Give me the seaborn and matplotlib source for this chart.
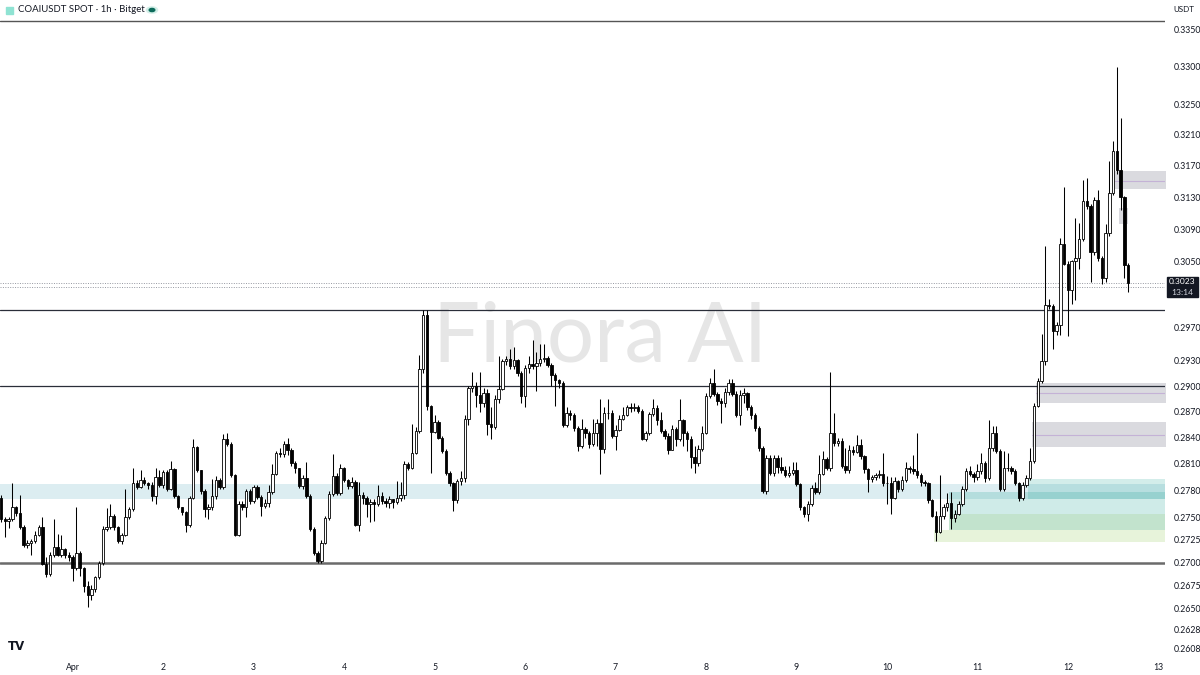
import numpy as np
import pandas as pd
import matplotlib
matplotlib.use("Agg")
import matplotlib.pyplot as plt
import seaborn as sns
from matplotlib.patches import Rectangle, Circle
from matplotlib.ticker import NullLocator

sns.set_theme(style="white")
plt.rcParams['font.family'] = ['Lato', 'DejaVu Sans']

# ==========================================
# 1h candles COAIUSDT (Bitget), from Mar 31 05:00, prices in 1e-4 USDT
# open of each candle = close of previous one
# ==========================================
FIRST_OPEN = 2772

CLOSE = [
    2748, 2746, 2748, 2761, 2755, 2739, 2719, 2722, 2724, 2731, 2739, 2699, 2688, 2708, 2717, 2709, 2715, 2708, 2706,
    2694, 2711, 2694, 2675, 2665, 2672, 2684, 2700, 2737, 2739, 2752, 2739, 2724, 2731, 2750, 2759, 2789, 2784, 2792, 2788, 2786, 2774, 2795, 2786,
    2801, 2782, 2804, 2774, 2761, 2756, 2741, 2772, 2829, 2803, 2780, 2759, 2762, 2774, 2792, 2784, 2838, 2833, 2797, 2731, 2765, 2761, 2779, 2768,
    2784, 2773, 2763, 2766, 2778, 2799, 2822, 2821, 2833, 2826, 2811, 2805, 2785, 2794, 2774, 2737, 2711, 2702, 2722, 2749, 2776, 2796, 2777, 2806,
    2792, 2785, 2790, 2742, 2775, 2772, 2765, 2767, 2765, 2774, 2768, 2766, 2770, 2767, 2772, 2775, 2810, 2806, 2823, 2848, 2920, 2985, 2877, 2847,
    2858, 2840, 2825, 2800, 2788, 2769, 2791, 2794, 2862, 2898, 2900, 2889, 2880, 2892, 2856, 2852, 2885, 2897, 2929, 2932, 2923, 2931, 2915, 2888,
    2921, 2926, 2923, 2927, 2932, 2933, 2925, 2913, 2907, 2904, 2855, 2868, 2866, 2851, 2831, 2850, 2846, 2833, 2846, 2857, 2827, 2868, 2869, 2842,
    2849, 2862, 2866, 2875, 2874, 2876, 2871, 2839, 2845, 2867, 2874, 2860, 2848, 2842, 2826, 2850, 2838, 2861, 2845, 2838, 2818, 2811, 2827, 2845,
    2888, 2903, 2891, 2882, 2880, 2893, 2903, 2891, 2866, 2890, 2892, 2876, 2866, 2851, 2828, 2780, 2817, 2800, 2817, 2807, 2803, 2797, 2800, 2803,
    2787, 2761, 2754, 2765, 2783, 2778, 2799, 2816, 2805, 2845, 2834, 2836, 2808, 2803, 2826, 2824, 2832, 2819, 2804, 2793, 2795, 2797, 2799, 2788,
    2789, 2772, 2791, 2782, 2792, 2805, 2804, 2802, 2797, 2790, 2788, 2769, 2752, 2734, 2751, 2761, 2766, 2749, 2754, 2765, 2782, 2802, 2799, 2795,
    2802, 2811, 2794, 2828, 2845, 2825, 2782, 2805, 2806, 2802, 2788, 2772, 2786, 2794, 2813, 2877, 2906, 2929, 2997, 2995, 2965, 2973, 3071, 3047,
    3015, 3050, 3054, 3078, 3125, 3119, 3062, 3126, 3054, 3029, 3085, 3136, 3189, 3165, 3130, 3046, 3023,
]

HIGH = [
    2775, 2750, 2750, 2789, 2763, 2775, 2741, 2725, 2726, 2735, 2742, 2750, 2706, 2712, 2748, 2732, 2730, 2716, 2712,
    2708, 2761, 2713, 2695, 2680, 2676, 2686, 2702, 2740, 2760, 2765, 2754, 2740, 2733, 2782, 2762, 2806, 2792, 2803, 2795, 2790, 2790, 2806, 2803,
    2803, 2803, 2813, 2806, 2775, 2762, 2757, 2774, 2838, 2830, 2803, 2782, 2765, 2793, 2796, 2794, 2844, 2845, 2835, 2799, 2768, 2768, 2782, 2782,
    2786, 2786, 2775, 2770, 2786, 2810, 2825, 2828, 2836, 2840, 2828, 2813, 2806, 2797, 2812, 2776, 2739, 2713, 2725, 2752, 2779, 2821, 2800, 2810,
    2807, 2793, 2795, 2792, 2790, 2778, 2774, 2770, 2770, 2786, 2778, 2772, 2774, 2771, 2791, 2790, 2813, 2812, 2856, 2852, 2937, 2990, 2990, 2878,
    2866, 2860, 2842, 2827, 2802, 2790, 2793, 2802, 2866, 2900, 2917, 2905, 2917, 2898, 2896, 2875, 2890, 2936, 2932, 2936, 2944, 2946, 2932, 2918,
    2925, 2935, 2955, 2940, 2950, 2950, 2935, 2927, 2915, 2908, 2906, 2875, 2872, 2868, 2853, 2862, 2852, 2848, 2862, 2862, 2885, 2875, 2885, 2872,
    2855, 2866, 2875, 2878, 2880, 2880, 2878, 2873, 2848, 2870, 2885, 2878, 2870, 2850, 2846, 2855, 2852, 2885, 2862, 2848, 2842, 2830, 2832, 2853,
    2892, 2910, 2920, 2893, 2886, 2898, 2908, 2908, 2894, 2895, 2898, 2893, 2878, 2868, 2853, 2830, 2820, 2820, 2820, 2820, 2818, 2808, 2808, 2812,
    2812, 2789, 2763, 2768, 2786, 2790, 2820, 2825, 2818, 2917, 2868, 2840, 2840, 2828, 2832, 2830, 2843, 2838, 2820, 2805, 2798, 2800, 2803, 2823,
    2796, 2795, 2795, 2792, 2796, 2812, 2808, 2820, 2845, 2800, 2792, 2790, 2770, 2757, 2797, 2765, 2777, 2778, 2758, 2768, 2785, 2806, 2808, 2801,
    2810, 2822, 2813, 2860, 2854, 2854, 2827, 2825, 2822, 2808, 2804, 2790, 2790, 2797, 2828, 2880, 2910, 2962, 3069, 3004, 2998, 2976, 3079, 3143,
    3050, 3052, 3104, 3098, 3152, 3155, 3122, 3130, 3139, 3056, 3097, 3176, 3202, 3299, 3232, 3132, 3048,
]

LOW = [
    2745, 2728, 2738, 2746, 2752, 2737, 2717, 2716, 2708, 2722, 2729, 2697, 2685, 2686, 2706, 2707, 2706, 2705, 2702,
    2680, 2692, 2686, 2668, 2652, 2660, 2668, 2682, 2698, 2735, 2737, 2736, 2722, 2720, 2729, 2748, 2757, 2782, 2783, 2786, 2782, 2768, 2765, 2784,
    2783, 2780, 2781, 2772, 2759, 2753, 2734, 2739, 2771, 2801, 2776, 2750, 2748, 2758, 2770, 2782, 2782, 2830, 2795, 2729, 2729, 2758, 2750, 2765,
    2766, 2770, 2752, 2760, 2762, 2776, 2797, 2818, 2818, 2820, 2808, 2800, 2783, 2782, 2772, 2735, 2709, 2700, 2700, 2720, 2747, 2774, 2775, 2775,
    2790, 2782, 2783, 2740, 2735, 2765, 2750, 2745, 2746, 2763, 2765, 2762, 2760, 2760, 2765, 2768, 2770, 2803, 2804, 2821, 2846, 2915, 2872, 2800,
    2845, 2838, 2822, 2798, 2785, 2757, 2766, 2786, 2790, 2855, 2893, 2875, 2870, 2876, 2843, 2838, 2850, 2880, 2895, 2925, 2920, 2920, 2912, 2880,
    2875, 2915, 2920, 2894, 2924, 2928, 2922, 2900, 2877, 2898, 2852, 2852, 2860, 2848, 2825, 2828, 2840, 2828, 2830, 2830, 2799, 2823, 2862, 2840,
    2826, 2848, 2860, 2865, 2870, 2871, 2868, 2837, 2836, 2843, 2865, 2855, 2845, 2838, 2821, 2826, 2830, 2836, 2830, 2825, 2805, 2800, 2808, 2825,
    2844, 2886, 2888, 2878, 2857, 2876, 2890, 2888, 2864, 2855, 2880, 2872, 2862, 2848, 2825, 2777, 2776, 2797, 2796, 2800, 2800, 2795, 2795, 2797,
    2785, 2758, 2750, 2746, 2763, 2776, 2776, 2797, 2803, 2802, 2830, 2830, 2805, 2800, 2800, 2820, 2822, 2816, 2800, 2778, 2790, 2792, 2794, 2785,
    2765, 2754, 2770, 2778, 2780, 2790, 2800, 2799, 2794, 2785, 2785, 2766, 2750, 2724, 2733, 2748, 2757, 2737, 2745, 2753, 2763, 2780, 2796, 2790,
    2792, 2799, 2790, 2792, 2825, 2822, 2779, 2780, 2802, 2799, 2786, 2768, 2769, 2784, 2792, 2811, 2875, 2903, 2925, 2992, 2944, 2960, 2960, 3045,
    2959, 2998, 3003, 3040, 3075, 3115, 3025, 3058, 3050, 3022, 3025, 3082, 3133, 3160, 3114, 3029, 3012,
]

DAY_LABELS = ["Apr", "2", "3", "4", "5", "6", "7", "8", "9", "10", "11", "12", "13"]
FIRST_DAY_CANDLE = 19   # Apr 1 00:00

Y_TICKS = [0.3350, 0.3300, 0.3250, 0.3210, 0.3170, 0.3130, 0.3090, 0.3050, 0.2970, 0.2930,
           0.2900, 0.2870, 0.2840, 0.2810, 0.2780, 0.2750, 0.2725, 0.2700, 0.2675, 0.2650,
           0.2628, 0.2608]

# horizontal levels
LEVELS = [0.2990, 0.2900]
SUPPORT = 0.2700
TOP_LINE = 0.3362
LAST_PRICE = 0.3023
PREV_PRICE = 0.3019

# demand / supply zones: start candle, top, bottom
BLUE_ZONE = (0.2787, 0.2770)
GRAY_START = [296, 275, 274, 297]
GRAY_END = [310, 310, 310, 299]
GRAY_TOP = [0.3164, 0.2904, 0.2858, 0.3116]
GRAY_BOT = [0.3140, 0.2880, 0.2829, 0.3097]
GRAY_MID = [0.3151, 0.2892, 0.2843, None]

GREEN_START = [273, 252, 252, 248]
GREEN_TOP = [0.2793, 0.2778, 0.2754, 0.2736]
GREEN_BOT = [0.2770, 0.2754, 0.2736, 0.2723]


df = pd.DataFrame({"close": CLOSE, "high": HIGH, "low": LOW}) / 1e4
df["open"] = df["close"].shift(1).fillna(FIRST_OPEN / 1e4)
df["x"] = np.arange(len(df))
df["high"] = df[["high", "open", "close"]].max(axis=1)
df["low"] = df[["low", "open", "close"]].min(axis=1)

W, H = 1200, 675
fig = plt.figure(figsize=(12, 6.75), dpi=100)
fig.patch.set_facecolor("white")
ax = fig.add_axes([0, 18 / H, 1165 / W, 1 - 18 / H])
ax.set_facecolor("white")

x_left, x_right = -0.27, 308.75
ax.set_xlim(x_left, x_right)
ax.set_yscale("log")
ax.set_ylim(0.2599, 0.3390)

# zones
ax.fill_between([x_left, x_right], BLUE_ZONE[1], BLUE_ZONE[0], color="#dcedf1", lw=0, zorder=1)
green_cols = [("#26a69a", 0.20), ("#26a69a", 0.22), ("#43a866", 0.32), ("#8bc34a", 0.20)]
for s, t, b, (c, a) in zip(GREEN_START, GREEN_TOP, GREEN_BOT, green_cols):
    ax.fill_between([s - 0.5, x_right], b, t, color=c, alpha=a, lw=0, zorder=1.2)
for s, e, t, b, m in zip(GRAY_START, GRAY_END, GRAY_TOP, GRAY_BOT, GRAY_MID):
    ax.fill_between([s - 0.5, e], b, t, color="#d1d1d8", alpha=0.8, lw=0, zorder=1.1)
    if m is not None:
        ax.plot([s - 0.5, e], [m, m], color="#c4b2d6", lw=0.8, zorder=1.3)

# levels
for lv in LEVELS:
    ax.axhline(lv, color="#2a2e39", lw=0.9, zorder=2)
ax.axhline(SUPPORT, color="#6b6b6b", lw=1.8, zorder=2)
ax.axhline(TOP_LINE, color="#555555", lw=1.0, zorder=2)
ax.axhline(LAST_PRICE, color="#9598a1", lw=0.7, ls=(0, (1, 1.5)), zorder=2)
ax.axhline(PREV_PRICE, color="#9598a1", lw=0.7, ls=(0, (1, 1.5)), zorder=2)

# candles
up = df["close"] >= df["open"]
body_bot = df[["open", "close"]].min(axis=1)
body_h = (df["close"] - df["open"]).abs().clip(lower=0.00005)
ax.vlines(df["x"], df["low"], df["high"], color="#000000", lw=0.75, zorder=3)
ax.bar(df["x"][up], body_h[up], bottom=body_bot[up], width=0.64,
       color="white", edgecolor="#000000", linewidth=0.6, zorder=4)
ax.bar(df["x"][~up], body_h[~up], bottom=body_bot[~up], width=0.64,
       color="#000000", edgecolor="#000000", linewidth=0.6, zorder=4)

# watermark
ax.text(600 / 1165, (657 - 338) / 657, "Finora AI", transform=ax.transAxes,
        fontsize=60, color="#e6e6e6", fontweight="normal", ha="center", va="center", zorder=0.5)

# axes cosmetics
sns.despine(ax=ax, left=True, bottom=True, right=True, top=True)
ax.yaxis.tick_right()
ax.yaxis.set_minor_locator(NullLocator())
ax.set_yticks(Y_TICKS)
ax.set_yticklabels([f"{v:.4f}" for v in Y_TICKS])
ax.tick_params(axis="y", length=0, pad=6, labelsize=6.3, labelcolor="#131722")
ax.set_xticks([FIRST_DAY_CANDLE + 24 * k for k in range(len(DAY_LABELS))])
ax.set_xticklabels(DAY_LABELS)
ax.tick_params(axis="x", length=0, pad=4, labelsize=6.3, labelcolor="#131722")
ax.grid(False)
ax.set_xlabel("")
ax.set_ylabel("")

# header
fig.patches.append(Rectangle((6 / W, 1 - 14 / H), 7 / W, 7 / H, transform=fig.transFigure,
                             color="#8fe3d3", zorder=5))
fig.text(18 / W, 1 - 10 / H, "COAIUSDT SPOT · 1h · Bitget", fontsize=6.9, color="#131722",
         ha="left", va="center")
fig.patches.append(Circle((152 / W, 1 - 10 / H), 5.5 / W, transform=fig.transFigure,
                          color="#d3efe8", zorder=5))
fig.patches.append(Circle((152 / W, 1 - 10 / H), 2.8 / W, transform=fig.transFigure,
                          color="#0c6b5b", zorder=6))
fig.text(1173 / W, 1 - 10 / H, "USDT", fontsize=5.8, color="#131722", ha="left", va="center")

# last price tag
fig.patches.append(Rectangle((1167 / W, 1 - 297 / H), 31 / W, 20 / H, transform=fig.transFigure,
                             color="#131722", zorder=5))
fig.text(1182 / W, 1 - 282 / H, "0.3023", fontsize=6.1, color="white", ha="center", va="center", zorder=6)
fig.text(1182 / W, 1 - 292 / H, "13:14", fontsize=6.1, color="#d1d4dc", ha="center", va="center", zorder=6)

# TradingView logo
fig.text(16 / W, 1 - 646 / H, "TV", fontsize=8.5, fontweight="heavy", color="#131722",
         ha="center", va="center", family=["DejaVu Sans"])

fig.savefig("out.png", dpi=100, facecolor="white")
